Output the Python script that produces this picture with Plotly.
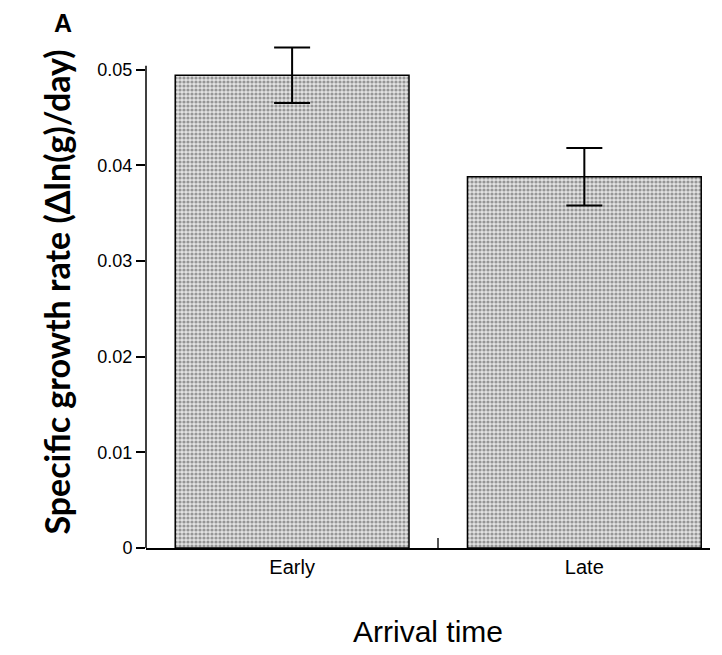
import plotly.graph_objects as go

categories = ["Early", "Late"]
growth_rate = [0.0494, 0.0388]
error = [0.0029, 0.0030]
y_ticks = [0, 0.01, 0.02, 0.03, 0.04, 0.05]
y_tick_labels = ["0", "0.01", "0.02", "0.03", "0.04", "0.05"]
y_axis_top = 0.0504

fig = go.Figure()
fig.add_trace(go.Bar(
    x=categories,
    y=growth_rate,
    width=0.8,
    marker=dict(
        color="#c0c0c0",
        line=dict(color="black", width=1.5),
        pattern=dict(shape=".", fgcolor="#4a4a4a", bgcolor="#e2e2e2", size=4, solidity=0.5),
    ),
    error_y=dict(type="data", array=error, visible=True, color="black", thickness=2, width=18),
    showlegend=False,
))

fig.update_layout(
    width=722, height=655,
    margin=dict(l=146, r=12, t=36, b=105),
    plot_bgcolor="white", paper_bgcolor="white",
    font=dict(family="Liberation Sans, Arial, sans-serif", color="black"),
    xaxis=dict(
        type="category", range=[-0.5, 1.43],
        showline=True, linecolor="black", linewidth=1.5,
        ticks="inside", tickson="boundaries", ticklen=10, tickcolor="#555", tickwidth=2,
        tickfont=dict(size=20),
        title=dict(text="Arrival time", font=dict(size=30), standoff=44),
        showgrid=False, zeroline=False,
    ),
    yaxis=dict(
        range=[0, 0.0535],
        tickvals=y_ticks, ticktext=y_tick_labels,
        showline=False,
        ticks="outside", ticklen=9, tickcolor="black", tickwidth=1.5,
        tickfont=dict(size=18),
        title=dict(text="Specific growth rate (Δln(g)/day)",
                   font=dict(size=34, family="Lato, Open Sans, sans-serif", weight="bold"), standoff=16),
        showgrid=False, zeroline=False,
    ),
    shapes=[dict(type="line", xref="paper", yref="y", x0=0, x1=0, y0=0, y1=y_axis_top,
                 line=dict(color="black", width=1.5), layer="above")],
    annotations=[dict(text="<b>A</b>", x=-0.1667, y=1.025, xref="paper", yref="paper",
                      xanchor="left", yanchor="middle",
                      showarrow=False, font=dict(size=25, family="Liberation Sans, Arial"))],
)

fig.write_html("out.html", config={"displayModeBar": False},
               post_script="document.body.style.margin='0';")
